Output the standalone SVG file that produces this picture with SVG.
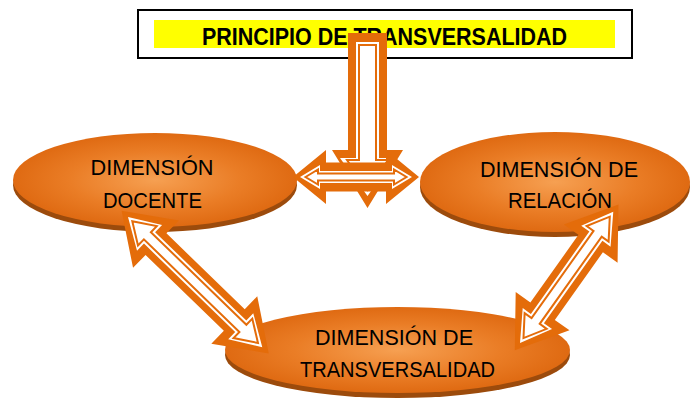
<svg xmlns="http://www.w3.org/2000/svg" width="693" height="399" viewBox="0 0 693 399">
<defs>
<radialGradient id="g" cx="50%" cy="50%" r="50%">
<stop offset="0" stop-color="#f6a052"/>
<stop offset="0.6" stop-color="#ea7d26"/>
<stop offset="1" stop-color="#df6a12"/>
</radialGradient>
<style>
.ao{fill:#e46c0a}
.aw{fill:#fff}
.ai{fill:#fff;stroke:#e46c0a;stroke-width:2;stroke-linejoin:miter}
.bevel{fill:#9c4b0c}
.body{fill:url(#g)}
.lbl{font-family:"Liberation Sans",Arial,sans-serif;font-size:22.5px;fill:#000;text-anchor:middle}
.ttl{font-family:"Liberation Sans",Arial,sans-serif;font-size:23px;font-weight:bold;fill:#000;text-anchor:middle}
</style>
</defs>
<rect width="693" height="399" fill="#fff"/>
<g id="title">
<rect x="138" y="10" width="494" height="48" fill="#fff" stroke="#000" stroke-width="2"/>
<rect x="154" y="20" width="461" height="28" fill="#ffff00"/>
<text class="ttl" x="384.5" y="45" textLength="365" lengthAdjust="spacingAndGlyphs">PRINCIPIO DE TRANSVERSALIDAD</text>
</g>
<g id="docente">
<ellipse class="bevel" cx="155" cy="185" rx="142" ry="47"/>
<ellipse class="body" cx="155" cy="180" rx="142" ry="47"/>
<text class="lbl" x="152" y="175" textLength="123" lengthAdjust="spacingAndGlyphs">DIMENSIÓN</text>
<text class="lbl" x="152.5" y="208" textLength="99" lengthAdjust="spacingAndGlyphs">DOCENTE</text>
</g>
<g id="relacion">
<ellipse class="bevel" cx="555" cy="187" rx="135" ry="50"/>
<ellipse class="body" cx="555" cy="182" rx="135" ry="50"/>
<text class="lbl" x="559" y="177" textLength="158" lengthAdjust="spacingAndGlyphs">DIMENSIÓN DE</text>
<text class="lbl" x="560" y="208" textLength="104" lengthAdjust="spacingAndGlyphs">RELACIÓN</text>
</g>
<g id="transversalidad">
<ellipse class="bevel" cx="397.5" cy="355" rx="172.5" ry="43"/>
<ellipse class="body" cx="397.5" cy="350" rx="172.5" ry="43"/>
<text class="lbl" x="394" y="345" textLength="158" lengthAdjust="spacingAndGlyphs">DIMENSIÓN DE</text>
<text class="lbl" x="397.5" y="377" textLength="195" lengthAdjust="spacingAndGlyphs">TRANSVERSALIDAD</text>
</g>
<g id="connectors">
<g id="down-arrow">
<polygon class="ao" points="348,33 387,33 387,150 403,150 367.5,208 332,150 348,150"/>
<polygon class="aw" points="356,42 379,42 379,158 395,158 367.5,196 340,158 356,158"/>
<polygon class="ai" points="359,45 376,45 376,160 388,160 367.5,190 347,160 359,160"/>
</g>
<g id="h-arrow" transform="translate(300,177)">
<polygon class="ao" points="-7,0 26,-27 26,-14.5 86,-14.5 86,-27 119,0 86,27 86,14.5 26,14.5 26,27"/>
<polygon class="aw" points="0,0 20,-12 20,-6 92,-6 92,-12 112,0 92,12 92,6 20,6 20,12"/>
<polygon class="ai" points="5.5,0 18,-7.5 18,-3.5 94,-3.5 94,-7.5 106.5,0 94,7.5 94,3.5 18,3.5 18,7.5"/>
</g>
<g id="l-arrow" transform="translate(128,217) rotate(44.1)">
<polygon class="ao" points="-9,0 39,-33 39,-15 148,-15 148,-33 196,0 148,33 148,15 39,15 39,33"/>
<polygon class="aw" points="0,0 30,-18 30,-8 157,-8 157,-18 187,0 157,18 157,8 30,8 30,18"/>
<polygon class="ai" points="6,0 27,-13.5 27,-5 160,-5 160,-13.5 181,0 160,13.5 160,5 27,5 27,13.5"/>
</g>
<g id="r-arrow" transform="translate(520,343) rotate(-54.6)">
<polygon class="ao" points="-9,0 39,-33 39,-15 122,-15 122,-33 170,0 122,33 122,15 39,15 39,33"/>
<polygon class="aw" points="0,0 30,-18 30,-8 131,-8 131,-18 161,0 131,18 131,8 30,8 30,18"/>
<polygon class="ai" points="6,0 27,-13.5 27,-5 134,-5 134,-13.5 155,0 134,13.5 134,5 27,5 27,13.5"/>
</g>
</g>
</svg>
